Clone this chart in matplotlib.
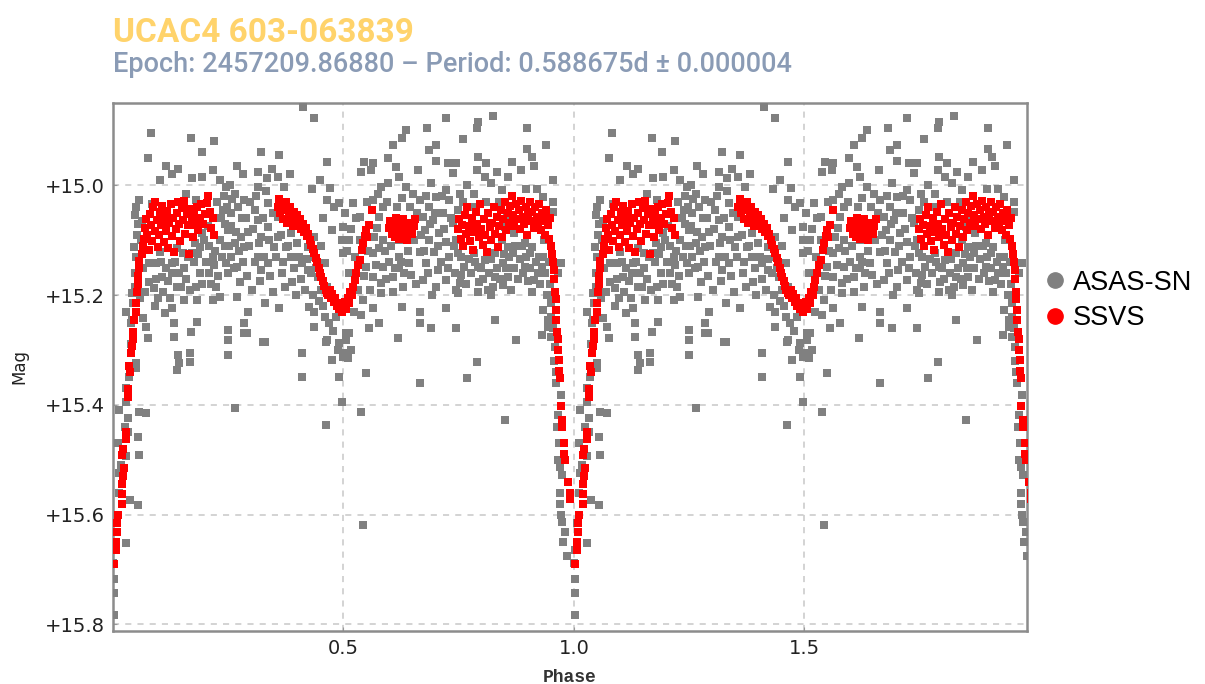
import numpy as np
import matplotlib
matplotlib.use("Agg")
import matplotlib.pyplot as plt
from matplotlib.lines import Line2D

# light curve, one cycle (phase, mag) - the plot repeats it at phase + 1
asas_pts = [
    (0.083, 14.905), (0.170, 14.913), (0.220, 14.920), (0.075, 14.950), (0.192, 14.940), (0.116, 14.964),
    (0.140, 14.970), (0.129, 14.980), (0.101, 14.990), (0.172, 14.987), (0.194, 14.985), (0.216, 14.973),
    (0.231, 14.990), (0.246, 15.004), (0.057, 15.027), (0.047, 15.055), (0.050, 15.040), (0.159, 15.015),
    (0.181, 15.027), (0.238, 15.045), (0.242, 15.070), (0.231, 15.100), (0.194, 15.087), (0.188, 15.113),
    (0.172, 15.124), (0.151, 15.124), (0.129, 15.142), (0.094, 15.142), (0.079, 15.142), (0.101, 15.122),
    (0.050, 15.130), (0.046, 15.113), (0.216, 15.130), (0.246, 15.142), (0.209, 15.160), (0.188, 15.160),
    (0.181, 15.185), (0.194, 15.180), (0.224, 15.185), (0.231, 15.204), (0.216, 15.209), (0.144, 15.160),
    (0.107, 15.167), (0.079, 15.176), (0.047, 15.185), (0.042, 15.197), (0.138, 15.185), (0.155, 15.209),
    (0.183, 15.209), (0.090, 15.220), (0.129, 15.224), (0.112, 15.233), (0.029, 15.230), (0.042, 15.245),
    (0.064, 15.242), (0.072, 15.258), (0.133, 15.250), (0.183, 15.249), (0.075, 15.278), (0.133, 15.276),
    (0.170, 15.267), (0.249, 15.282), (0.249, 15.309), (0.050, 15.324), (0.140, 15.309), (0.166, 15.306),
    (0.029, 15.369), (0.138, 15.337), (0.144, 15.324), (0.166, 15.322), (0.290, 15.270), (0.325, 15.285),
    (0.463, 15.285), (0.496, 15.395), (0.463, 15.436), (0.264, 15.405), (0.050, 15.333), (0.029, 15.394),
    (0.014, 15.409), (0.032, 15.424), (0.057, 15.413), (0.072, 15.415), (0.032, 15.449), (0.054, 15.458),
    (0.029, 15.494), (0.057, 15.491), (0.014, 15.524), (0.036, 15.573), (0.054, 15.582), (0.007, 15.615),
    (0.029, 15.651), (0.003, 15.664), (0.003, 15.782), (0.002, 15.742), (0.002, 15.718), (0.001, 15.688),
    (0.412, 14.858), (0.437, 14.878), (0.322, 14.940), (0.361, 14.945), (0.268, 14.964), (0.465, 14.958),
    (0.314, 14.976), (0.344, 14.970), (0.281, 14.980), (0.333, 14.987), (0.357, 14.985), (0.383, 14.980),
    (0.253, 15.000), (0.314, 15.004), (0.372, 15.004), (0.448, 14.990), (0.431, 15.006), (0.264, 15.015),
    (0.285, 15.027), (0.465, 15.027), (0.491, 15.033), (0.307, 15.045), (0.336, 15.033), (0.257, 15.051),
    (0.279, 15.060), (0.314, 15.064), (0.336, 15.076), (0.357, 15.058), (0.249, 15.082), (0.292, 15.085),
    (0.322, 15.095), (0.357, 15.095), (0.386, 15.087), (0.415, 15.082), (0.437, 15.095), (0.474, 15.082),
    (0.496, 15.100), (0.264, 15.105), (0.285, 15.113), (0.350, 15.113), (0.376, 15.113), (0.400, 15.105),
    (0.422, 15.113), (0.257, 15.130), (0.314, 15.130), (0.336, 15.142), (0.386, 15.130), (0.409, 15.142),
    (0.437, 15.130), (0.459, 15.142), (0.270, 15.149), (0.249, 15.160), (0.322, 15.155), (0.366, 15.160),
    (0.422, 15.155), (0.444, 15.167), (0.275, 15.176), (0.389, 15.176), (0.465, 15.185), (0.270, 15.204),
    (0.452, 15.191), (0.329, 15.215), (0.361, 15.224), (0.426, 15.222), (0.292, 15.231), (0.437, 15.231),
    (0.459, 15.240), (0.285, 15.251), (0.437, 15.258), (0.285, 15.269), (0.249, 15.264), (0.329, 15.285),
    (0.465, 15.282), (0.409, 15.306), (0.474, 15.318), (0.409, 15.349), (0.491, 15.349),
    (0.723, 14.878), (0.682, 14.896), (0.636, 14.900), (0.626, 14.913), (0.607, 14.927), (0.701, 14.927),
    (0.686, 14.936), (0.596, 14.951), (0.545, 14.958), (0.563, 14.960), (0.701, 14.955), (0.726, 14.960),
    (0.614, 14.967), (0.661, 14.973), (0.539, 14.976), (0.560, 14.973), (0.621, 14.985), (0.737, 14.978),
    (0.690, 14.995), (0.582, 15.004), (0.636, 15.004), (0.596, 14.996), (0.723, 15.009), (0.574, 15.015),
    (0.650, 15.015), (0.701, 15.022), (0.563, 15.027), (0.626, 15.024), (0.665, 15.027), (0.730, 15.027),
    (0.520, 15.033), (0.585, 15.040), (0.686, 15.040), (0.715, 15.051), (0.535, 15.058), (0.578, 15.058),
    (0.672, 15.058), (0.694, 15.064), (0.737, 15.069), (0.498, 15.076), (0.572, 15.078), (0.676, 15.082),
    (0.708, 15.087), (0.513, 15.100), (0.585, 15.100), (0.621, 15.100), (0.686, 15.100), (0.723, 15.104),
    (0.665, 15.122), (0.697, 15.122), (0.498, 15.124), (0.563, 15.124), (0.621, 15.130), (0.643, 15.142),
    (0.680, 15.142), (0.730, 15.130), (0.549, 15.149), (0.585, 15.149), (0.621, 15.151), (0.704, 15.155),
    (0.563, 15.167), (0.607, 15.167), (0.647, 15.164), (0.672, 15.173), (0.723, 15.173), (0.582, 15.178),
    (0.629, 15.185), (0.701, 15.185), (0.745, 15.191), (0.607, 15.195), (0.582, 15.197), (0.542, 15.209),
    (0.563, 15.224), (0.626, 15.222), (0.665, 15.231), (0.723, 15.224), (0.539, 15.236), (0.578, 15.251),
    (0.665, 15.251), (0.690, 15.260), (0.745, 15.260), (0.556, 15.260), (0.513, 15.269), (0.506, 15.282),
    (0.618, 15.278), (0.517, 15.300), (0.498, 15.313), (0.549, 15.342), (0.665, 15.360),
    (0.824, 14.873), (0.791, 14.885), (0.789, 14.896), (0.759, 14.915), (0.899, 14.895), (0.940, 14.927),
    (0.899, 14.933), (0.908, 14.949), (0.791, 14.949), (0.810, 14.960), (0.865, 14.958), (0.914, 14.964),
    (0.745, 14.960), (0.789, 14.973), (0.832, 14.976), (0.886, 14.973), (0.806, 14.985), (0.856, 14.985),
    (0.954, 14.990), (0.769, 15.000), (0.821, 14.996), (0.897, 15.006), (0.919, 15.006), (0.752, 15.015),
    (0.784, 15.015), (0.843, 15.009), (0.932, 15.022), (0.954, 15.031), (0.748, 15.045), (0.954, 15.049),
    (0.854, 15.055), (0.850, 15.076), (0.871, 15.087), (0.745, 15.100), (0.843, 15.100), (0.856, 15.113),
    (0.893, 15.105), (0.910, 15.113), (0.936, 15.100), (0.748, 15.124), (0.784, 15.124), (0.828, 15.124),
    (0.867, 15.124), (0.904, 15.124), (0.925, 15.130), (0.806, 15.136), (0.845, 15.142), (0.762, 15.149),
    (0.791, 15.149), (0.893, 15.149), (0.930, 15.149), (0.973, 15.142), (0.756, 15.164), (0.828, 15.167),
    (0.856, 15.167), (0.914, 15.173), (0.965, 15.160), (0.752, 15.178), (0.795, 15.176), (0.845, 15.182),
    (0.813, 15.191), (0.748, 15.197), (0.791, 15.195), (0.821, 15.200), (0.958, 15.200), (0.932, 15.227),
    (0.951, 15.215), (0.828, 15.245), (0.943, 15.245), (0.943, 15.258), (0.930, 15.273), (0.875, 15.282),
    (0.951, 15.276), (0.958, 15.295), (0.789, 15.322), (0.769, 15.351), (0.973, 15.382),
    (0.506, 15.270), (0.491, 15.287), (0.506, 15.306), (0.509, 15.315), (0.539, 15.413), (0.850, 15.427),
    (0.965, 15.418), (0.965, 15.500), (0.969, 15.513), (0.975, 15.527), (0.969, 15.560), (0.975, 15.613),
    (0.980, 15.631), (0.984, 15.676), (0.542, 15.618),
    # the crowded band between the maxima
    (0.062, 15.065), (0.066, 15.150), (0.069, 15.195), (0.085, 15.035), (0.088, 15.188), (0.093, 15.170),
    (0.098, 15.205), (0.104, 15.140), (0.109, 15.195), (0.114, 15.150), (0.119, 15.175), (0.124, 15.205),
    (0.127, 15.160), (0.134, 15.140), (0.139, 15.115), (0.147, 15.185), (0.153, 15.150), (0.158, 15.170),
    (0.162, 15.130), (0.167, 15.190), (0.176, 15.140), (0.178, 15.105), (0.185, 15.125), (0.198, 15.100),
    (0.201, 15.140), (0.205, 15.075), (0.208, 15.110), (0.212, 15.180), (0.219, 15.145), (0.222, 15.120),
    (0.226, 15.030), (0.228, 15.165), (0.234, 15.060), (0.236, 15.130), (0.240, 15.020), (0.244, 15.110),
    (0.247, 15.040), (0.252, 15.110), (0.255, 15.075), (0.259, 15.025), (0.262, 15.150), (0.266, 15.085),
    (0.272, 15.040), (0.274, 15.120), (0.277, 15.095), (0.283, 15.140), (0.288, 15.060), (0.290, 15.165),
    (0.295, 15.110), (0.298, 15.030), (0.301, 15.190), (0.304, 15.080), (0.309, 15.140), (0.311, 15.020),
    (0.317, 15.105), (0.319, 15.175), (0.326, 15.060), (0.328, 15.130), (0.331, 15.010), (0.339, 15.100),
    (0.341, 15.165), (0.346, 15.050), (0.348, 15.195), (0.353, 15.130), (0.364, 15.090), (0.369, 15.140),
    (0.374, 15.185), (0.380, 15.110), (0.392, 15.150), (0.396, 15.200), (0.403, 15.130), (0.407, 15.170),
    (0.417, 15.190), (0.420, 15.135), (0.429, 15.160), (0.433, 15.200), (0.440, 15.150), (0.447, 15.210),
    (0.455, 15.220), (0.468, 15.250), (0.477, 15.265), (0.484, 15.240), (0.489, 15.300), (0.480, 15.040),
    (0.470, 15.005), (0.456, 15.060), (0.452, 15.110),
    (0.503, 15.050), (0.508, 15.120), (0.511, 15.160), (0.516, 15.080), (0.522, 15.230), (0.525, 15.130),
    (0.528, 15.060), (0.531, 15.190), (0.536, 15.100), (0.545, 15.165), (0.551, 15.030), (0.554, 15.120),
    (0.558, 15.190), (0.567, 15.095), (0.570, 15.145), (0.576, 15.115), (0.589, 15.120), (0.592, 15.170),
    (0.594, 15.030), (0.599, 15.140), (0.604, 15.110), (0.611, 15.150), (0.616, 15.040), (0.624, 15.140),
    (0.632, 15.160), (0.639, 15.120), (0.645, 15.040), (0.653, 15.100), (0.657, 15.180), (0.660, 15.050),
    (0.668, 15.090), (0.675, 15.120), (0.679, 15.020), (0.683, 15.160), (0.688, 15.070), (0.692, 15.200),
    (0.698, 15.050), (0.705, 15.110), (0.711, 15.140), (0.713, 15.020), (0.718, 15.080), (0.727, 15.150),
    (0.733, 15.060), (0.740, 15.110), (0.742, 15.160),
    (0.755, 15.130), (0.760, 15.030), (0.765, 15.180), (0.772, 15.135), (0.776, 15.160), (0.780, 15.040),
    (0.786, 15.140), (0.798, 15.150), (0.803, 15.170), (0.809, 15.030), (0.816, 15.160), (0.819, 15.135),
    (0.825, 15.185), (0.834, 15.150), (0.838, 15.030), (0.840, 15.170), (0.848, 15.125), (0.852, 15.150),
    (0.860, 15.130), (0.863, 15.190), (0.869, 15.150), (0.873, 15.110), (0.878, 15.170), (0.882, 15.135),
    (0.887, 15.110), (0.890, 15.160), (0.896, 15.130), (0.900, 15.175), (0.905, 15.150), (0.909, 15.195),
    (0.918, 15.140), (0.921, 15.160), (0.927, 15.180), (0.933, 15.130), (0.937, 15.160), (0.941, 15.200),
    (0.945, 15.140), (0.948, 15.180), (0.951, 15.240), (0.955, 15.260), (0.957, 15.320), (0.960, 15.340),
    (0.962, 15.360), (0.963, 15.440), (0.967, 15.470), (0.970, 15.580), (0.972, 15.600), (0.977, 15.650),
    (0.010, 15.470), (0.012, 15.560), (0.018, 15.510), (0.025, 15.440), (0.035, 15.350), (0.038, 15.290),
    (0.040, 15.250), (0.044, 15.215), (0.048, 15.160), (0.052, 15.090), (0.055, 15.070), (0.058, 15.205),
    (0.060, 15.100),
]

ssvs_pts = [
    # primary egress
    (0.003, 15.690), (0.006, 15.665), (0.007, 15.650), (0.008, 15.632), (0.009, 15.615), (0.010, 15.600),
    (0.019, 15.580), (0.019, 15.562), (0.020, 15.545), (0.022, 15.530), (0.024, 15.515), (0.020, 15.492),
    (0.022, 15.480), (0.029, 15.462), (0.029, 15.450), (0.032, 15.385), (0.033, 15.372), (0.036, 15.340),
    (0.034, 15.330), (0.039, 15.305), (0.041, 15.292), (0.043, 15.280), (0.043, 15.268), (0.046, 15.245),
    (0.049, 15.230), (0.049, 15.215), (0.052, 15.195), (0.054, 15.180), (0.054, 15.165), (0.057, 15.150),
    (0.057, 15.138), (0.062, 15.125), (0.065, 15.110),
    # first maximum
    (0.068, 15.098), (0.070, 15.078), (0.072, 15.062), (0.074, 15.090), (0.077, 15.118), (0.080, 15.052),
    (0.082, 15.072), (0.085, 15.102), (0.087, 15.040), (0.090, 15.083), (0.092, 15.030), (0.095, 15.063),
    (0.097, 15.112), (0.099, 15.091), (0.102, 15.048), (0.104, 15.072), (0.107, 15.038), (0.110, 15.104),
    (0.112, 15.058), (0.115, 15.083), (0.118, 15.047), (0.120, 15.115), (0.122, 15.068), (0.125, 15.035),
    (0.128, 15.092), (0.131, 15.060), (0.133, 15.121), (0.136, 15.079), (0.138, 15.050), (0.141, 15.030),
    (0.143, 15.070), (0.146, 15.101), (0.149, 15.042), (0.152, 15.064), (0.154, 15.028), (0.157, 15.088),
    (0.160, 15.053), (0.162, 15.072), (0.165, 15.125), (0.168, 15.044), (0.171, 15.063), (0.173, 15.094),
    (0.176, 15.050), (0.179, 15.072), (0.182, 15.040), (0.185, 15.082), (0.188, 15.060), (0.191, 15.035),
    (0.195, 15.070), (0.199, 15.052), (0.203, 15.032), (0.207, 15.020), (0.210, 15.048), (0.213, 15.078),
    (0.216, 15.060), (0.219, 15.090),
    # secondary minimum
    (0.357, 15.040), (0.360, 15.025), (0.363, 15.050), (0.366, 15.035), (0.369, 15.062), (0.372, 15.045),
    (0.375, 15.030), (0.378, 15.068), (0.381, 15.052), (0.384, 15.040), (0.387, 15.060), (0.390, 15.075),
    (0.393, 15.048), (0.396, 15.066), (0.399, 15.055), (0.402, 15.072), (0.405, 15.062), (0.408, 15.080),
    (0.412, 15.070), (0.415, 15.085), (0.418, 15.078), (0.421, 15.092), (0.424, 15.088), (0.427, 15.100),
    (0.430, 15.108), (0.434, 15.116), (0.437, 15.124), (0.440, 15.132), (0.443, 15.140), (0.446, 15.150),
    (0.449, 15.160), (0.452, 15.168), (0.455, 15.175), (0.458, 15.183), (0.461, 15.190), (0.464, 15.196),
    (0.467, 15.200), (0.470, 15.190), (0.473, 15.205), (0.476, 15.198), (0.479, 15.212), (0.482, 15.205),
    (0.485, 15.220), (0.488, 15.215), (0.491, 15.225), (0.494, 15.218), (0.497, 15.230), (0.500, 15.222),
    (0.503, 15.212), (0.506, 15.226), (0.509, 15.205), (0.512, 15.215), (0.515, 15.195), (0.518, 15.200),
    (0.521, 15.185), (0.524, 15.172), (0.528, 15.160), (0.532, 15.146), (0.535, 15.136), (0.540, 15.118),
    (0.543, 15.105), (0.546, 15.092), (0.549, 15.082), (0.552, 15.095), (0.556, 15.072), (0.561, 15.045),
    (0.598, 15.078), (0.602, 15.065), (0.605, 15.088), (0.608, 15.072), (0.611, 15.095), (0.614, 15.060),
    (0.617, 15.080), (0.620, 15.098), (0.623, 15.070), (0.626, 15.085), (0.629, 15.062), (0.632, 15.090),
    (0.635, 15.075), (0.638, 15.100), (0.641, 15.082), (0.644, 15.068), (0.648, 15.088), (0.652, 15.075),
    (0.656, 15.062),
    # second maximum
    (0.748, 15.080), (0.751, 15.062), (0.754, 15.098), (0.757, 15.072), (0.760, 15.110), (0.763, 15.055),
    (0.766, 15.088), (0.769, 15.040), (0.772, 15.075), (0.775, 15.102), (0.778, 15.060), (0.781, 15.118),
    (0.784, 15.085), (0.787, 15.048), (0.790, 15.070), (0.793, 15.095), (0.796, 15.035), (0.799, 15.080),
    (0.802, 15.108), (0.805, 15.062), (0.808, 15.090), (0.811, 15.122), (0.814, 15.050), (0.817, 15.076),
    (0.820, 15.100), (0.823, 15.068), (0.826, 15.040), (0.829, 15.088), (0.832, 15.058), (0.835, 15.112),
    (0.838, 15.075), (0.841, 15.045), (0.844, 15.095), (0.847, 15.062), (0.850, 15.030), (0.853, 15.082),
    (0.856, 15.050), (0.859, 15.068), (0.862, 15.038), (0.865, 15.020), (0.868, 15.055), (0.871, 15.075),
    (0.874, 15.035), (0.877, 15.062), (0.880, 15.045), (0.883, 15.080), (0.886, 15.028), (0.889, 15.058),
    (0.892, 15.070), (0.895, 15.040), (0.898, 15.090), (0.901, 15.052), (0.904, 15.030), (0.907, 15.065),
    (0.910, 15.048), (0.913, 15.078), (0.916, 15.040), (0.919, 15.058), (0.922, 15.070), (0.925, 15.035),
    (0.928, 15.082), (0.931, 15.050), (0.934, 15.065), (0.937, 15.090), (0.940, 15.045), (0.943, 15.072),
    (0.946, 15.098), (0.949, 15.060), (0.951, 15.110),
    # primary ingress
    (0.953, 15.125), (0.954, 15.140), (0.956, 15.155), (0.957, 15.170), (0.959, 15.195), (0.960, 15.208),
    (0.961, 15.228), (0.962, 15.245), (0.964, 15.268), (0.965, 15.280), (0.966, 15.300), (0.968, 15.318),
    (0.968, 15.338), (0.969, 15.352), (0.971, 15.402), (0.975, 15.428), (0.975, 15.440), (0.979, 15.470),
    (0.979, 15.490), (0.980, 15.500), (0.987, 15.540), (0.991, 15.560), (0.992, 15.572),
]

title = "UCAC4 603-063839"
subtitle = "Epoch: 2457209.86880 \u2013 Period: 0.588675d \u00b1 0.000004"
series_names = ["ASAS-SN", "SSVS"]
series_colors = ["#808080", "#ff0000"]
x_ticks = [0.5, 1.0, 1.5]
y_ticks = [15.0, 15.2, 15.4, 15.6, 15.8]


def two_cycles(pts):
    a = np.array(pts)
    ph = np.concatenate([a[:, 0], a[:, 0] + 1.0])
    mag = np.concatenate([a[:, 1], a[:, 1]])
    return ph, mag


fig = plt.figure(figsize=(12.05, 6.84), dpi=100)
ax = fig.add_axes([0.0938, 0.0775, 0.7585, 0.772])

for pts, col in zip([asas_pts, ssvs_pts], series_colors):
    ph, mag = two_cycles(pts)
    ax.scatter(ph, mag, s=32, marker="s", color=col, linewidths=0, zorder=3)

ax.set_xlim(0.0, 1.983)
ax.set_ylim(15.812, 14.85)
ax.set_xticks(x_ticks)
ax.set_xticklabels(["%.1f" % t for t in x_ticks])
ax.set_yticks(y_ticks)
ax.set_yticklabels(["+%.1f" % t for t in y_ticks])
ax.grid(True, color="#c8c8c8", linestyle=(0, (4, 4)), linewidth=1.1, zorder=0)
ax.tick_params(direction="in", length=3, color="#999999", labelsize=14, labelcolor="#222222", pad=6)
for sp in ax.spines.values():
    sp.set_color("#8c8c8c")
    sp.set_linewidth(1.8)

ax.set_xlabel("Phase", family="Liberation Mono", weight="bold", fontsize=13, color="#333333", labelpad=8)
ax.set_ylabel("Mag", family="DejaVu Sans", fontsize=12, color="#222222", labelpad=12)

fig.text(0.0938, 0.9386, title, family="Roboto", weight="bold", fontsize=24, color="#ffd36b")
fig.text(0.0938, 0.8947, subtitle, family="Roboto", weight="medium", fontsize=19.5, color="#8a9bb5")

handles = [Line2D([], [], marker="o", linestyle="", markersize=11, color=c) for c in series_colors]
fig.legend(handles, series_names, loc="center left", bbox_to_anchor=(0.853, 0.561), frameon=False,
           prop={"family": "Liberation Sans", "size": 19.5}, handletextpad=0.05, labelspacing=0.35,
           handlelength=1.2, borderaxespad=0)

fig.savefig("out.png", dpi=100)
